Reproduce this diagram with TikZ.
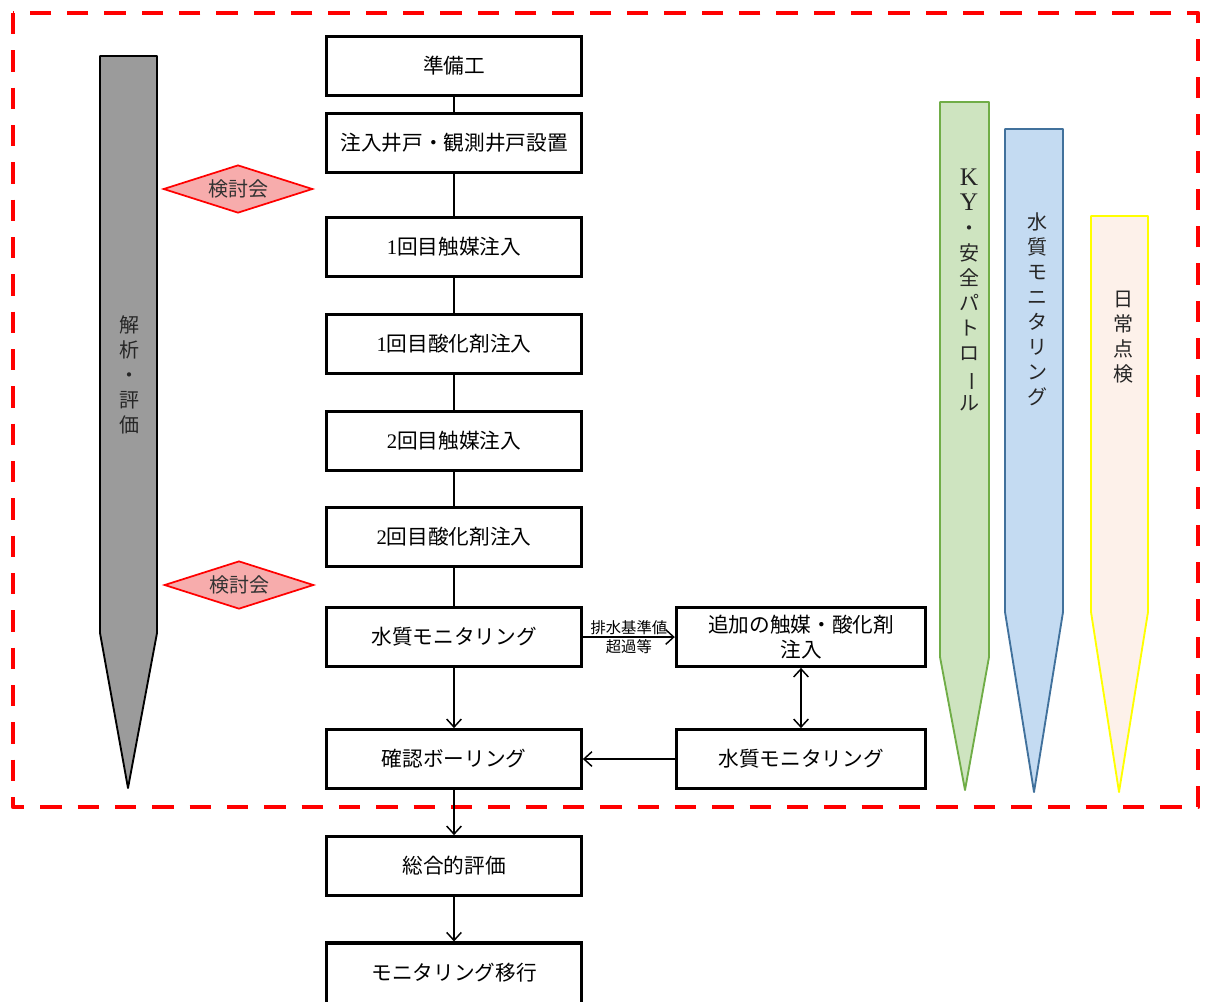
\documentclass[tikz,border=0pt]{standalone}
\usepackage{fontspec}
\usepackage{graphicx}
\setmainfont{Noto Sans CJK JP}
\newfontfamily\serif{Liberation Serif}
\usetikzlibrary{arrows.meta,shapes.geometric}
\definecolor{pgray}{RGB}{155,155,155}
\definecolor{pgreenfill}{RGB}{206,228,192}
\definecolor{pgreen}{RGB}{112,173,71}
\definecolor{pbluefill}{RGB}{196,219,242}
\definecolor{pblue}{RGB}{65,113,156}
\definecolor{pyellowfill}{RGB}{253,241,234}
\definecolor{pyellow}{RGB}{255,255,0}
\definecolor{dfill}{RGB}{247,172,172}
\newcommand{\vbar}{\rotatebox[origin=c]{-90}{ー}}
\newcommand{\bigletter}[1]{{\serif\fontsize{19}{18.75}\selectfont #1}}
\begin{document}
\begin{tikzpicture}[x=0.75pt,y=-0.75pt,
  stepbox/.style={draw, line width=2.3pt, minimum width=191pt, minimum height=44pt,
    inner sep=0pt, align=center, font=\fontsize{15.5}{19}\selectfont},
  sidebox/.style={stepbox, minimum width=187pt},
  link/.style={line width=2.2pt},
  arr/.style={line width=1.1pt, -{Straight Barb[length=6pt,width=11pt,line width=1.1pt]}},
  darr/.style={line width=1.1pt, {Straight Barb[length=6pt,width=11pt,line width=1.1pt]}-{Straight Barb[length=6pt,width=11pt,line width=1.1pt]}},
  meet/.style={diamond, draw=red, line width=1.3pt, fill=dfill, aspect=3,
    minimum width=112pt, minimum height=36pt, inner sep=0pt,
    font=\fontsize{15}{18}\selectfont, text=black!80},
  vtext/.style={align=center, font=\fontsize{15}{18.75}\selectfont, inner sep=0pt, text=black!85},
  small/.style={font=\fontsize{11.5}{13}\selectfont, inner sep=1.5pt}
]
\useasboundingbox (0,0) rectangle (1205,1001);
\clip (0,0) rectangle (1205,1001);

% red dashed frame
\draw[red, line width=3.6pt, dash pattern=on 16pt off 12pt, line join=round]
  (13,13) rectangle (1198,807);

% left pencil
\draw[fill=pgray, line width=1.4pt, line join=round]
  (100,56) -- (157,56) -- (157,633) -- (128,788) -- (100,633) -- cycle;
\node[vtext] (lp) at (129,375) {解\\析\\・\\評\\価};

% right pencils
\draw[draw=pgreen, fill=pgreenfill, line width=1.4pt, line join=round]
  (940,102) -- (989,102) -- (989,657) -- (965,790) -- (940,657) -- cycle;
\node[vtext] (gp) at (969,290) {\bigletter{K}\\\bigletter{Y}\\・\\安\\全\\パ\\ト\\ロ\\\vbar\\ル};
\draw[draw=pblue, fill=pbluefill, line width=1.4pt, line join=round]
  (1005,129) -- (1063,129) -- (1063,612) -- (1034,792) -- (1005,612) -- cycle;
\node[vtext] (bp) at (1037,309) {水\\質\\モ\\ニ\\タ\\リ\\ン\\グ};
\draw[draw=pyellow, fill=pyellowfill, line width=1.4pt, line join=round]
  (1091,216) -- (1148,216) -- (1148,612) -- (1119,792) -- (1091,612) -- cycle;
\node[vtext] (yp) at (1123,337) {日\\常\\点\\検};

% diamonds
\node[meet] (m1) at (238,189) {検討会};
\node[meet] (m2) at (239,585) {検討会};

% main flow
\node[stepbox] (n1) at (454,66) {準備工};
\node[stepbox] (n2) at (454,143) {注入井戸・観測井戸設置};
\node[stepbox] (n3) at (454,247) {{\serif 1}回目触媒注入};
\node[stepbox] (n4) at (454,344) {{\serif 1}回目酸化剤注入};
\node[stepbox] (n5) at (454,441) {{\serif 2}回目触媒注入};
\node[stepbox] (n6) at (454,537) {{\serif 2}回目酸化剤注入};
\node[stepbox] (n7) at (454,637) {水質モニタリング};
\node[stepbox] (n8) at (454,759) {確認ボーリング};
\node[stepbox] (n9) at (454,866) {総合的評価};
\node[stepbox, minimum height=48pt] (n10) at (454,975) {};
\node[font=\fontsize{15.5}{19}\selectfont] (n10t) at (454,973) {モニタリング移行};

\node[sidebox] (a1) at (801,637) {追加の触媒・酸化剤\\注入};
\node[sidebox] (a2) at (801,759) {水質モニタリング};

\draw[link] (n1) -- (n2);
\draw[link] (n2) -- (n3);
\draw[link] (n3) -- (n4);
\draw[link] (n4) -- (n5);
\draw[link] (n5) -- (n6);
\draw[link] (n6) -- (n7);
\draw[arr] (n7) -- (n8);
\draw[arr] (n8) -- (n9);
\draw[arr] (n9) -- (n10);
\draw[arr] (n7.east) -- (a1.west)
  node[midway, above, small] (l1) {排水基準値}
  node[midway, below, small] (l2) {超過等};
\draw[darr] (a1) -- (a2);
\draw[arr] (a2.west) -- (n8.east);
\end{tikzpicture}
\end{document}
